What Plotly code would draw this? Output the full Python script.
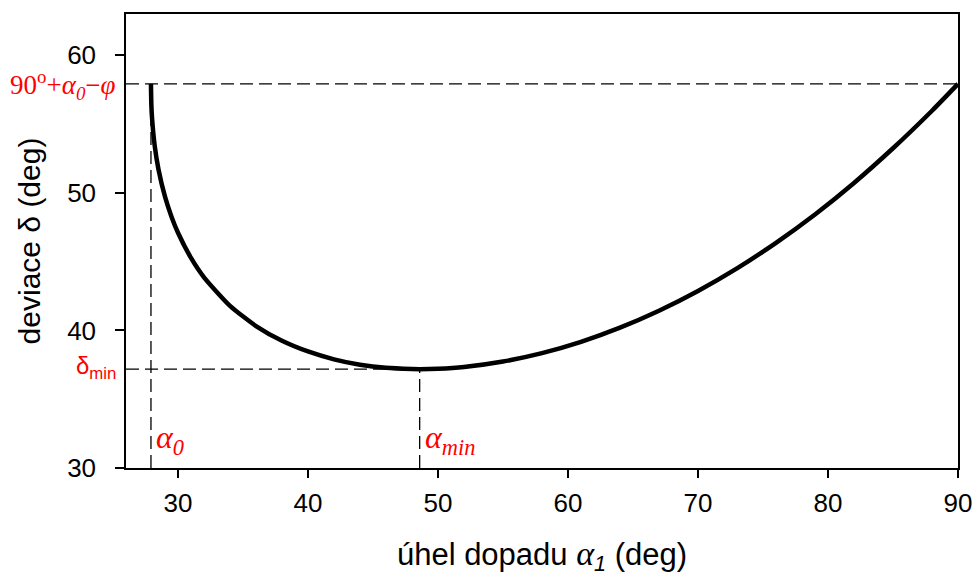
import plotly.graph_objects as go

# incidence angle alpha1 (deg) and deviation delta (deg)
alpha1 = [27.92, 27.95, 28.0, 28.2, 28.5, 29.0, 29.5, 30.0, 31.0, 32.0, 34.0, 36.0,
          38.0, 40.0, 42.0, 44.0, 46.0, 48.0, 48.59, 50.0, 52.0, 55.0, 58.0, 61.0,
          64.0, 67.0, 70.0, 73.0, 76.0, 79.0, 82.0, 85.0, 88.0, 90.0]
delta = [57.92, 56.41, 55.48, 53.48, 51.70, 49.72, 48.27, 47.10, 45.27, 43.86, 41.79, 40.32,
         39.25, 38.47, 37.90, 37.51, 37.28, 37.19, 37.18, 37.21, 37.34, 37.74, 38.35, 39.17,
         40.20, 41.43, 42.87, 44.51, 46.37, 48.43, 50.72, 53.24, 55.97, 57.92]

alpha0 = 27.92
alpha_min = 48.59
delta_min = 37.18
delta_top = 57.92
x_range = [26, 90]
y_range = [30, 63]
x_ticks = [30, 40, 50, 60, 70, 80, 90]
y_ticks = [30, 40, 50, 60]

SANS = "Liberation Sans, Arial, sans-serif"
SERIF = "Liberation Serif, Times New Roman, serif"
RED = "#ff0000"

fig = go.Figure()
dash_style = dict(color="black", width=1.3, dash="13px,6px")
# guide lines
fig.add_trace(go.Scatter(x=[x_range[0], x_range[1]], y=[delta_top, delta_top], mode="lines",
                         line=dash_style, hoverinfo="skip"))
fig.add_trace(go.Scatter(x=[alpha0, alpha0], y=[y_range[0], delta_top], mode="lines",
                         line=dash_style, hoverinfo="skip"))
fig.add_trace(go.Scatter(x=[x_range[0], alpha_min], y=[delta_min, delta_min], mode="lines",
                         line=dash_style, hoverinfo="skip"))
fig.add_trace(go.Scatter(x=[alpha_min, alpha_min], y=[y_range[0], delta_min], mode="lines",
                         line=dash_style, hoverinfo="skip"))
# curve
fig.add_trace(go.Scatter(x=alpha1, y=delta, mode="lines",
                         line=dict(color="black", width=4.5, shape="spline", smoothing=0.6)))

fig.add_annotation(xref="paper", x=0, y=delta_top, xanchor="right", yanchor="middle",
                   xshift=-8, yshift=-1, showarrow=False,
                   text="90<sup>o</sup>+<i>α</i><sub><i>0</i></sub>−<i>φ</i>",
                   font=dict(family=SERIF, size=27, color=RED))
fig.add_annotation(xref="paper", x=0, y=delta_min, xanchor="right", yanchor="middle",
                   xshift=-8, yshift=2, showarrow=False,
                   text="δ<sub>min</sub>",
                   font=dict(family=SANS, size=24, color=RED))
fig.add_annotation(x=alpha0, y=y_range[0], xanchor="left", yanchor="bottom",
                   xshift=3, yshift=6, showarrow=False,
                   text="<i>α</i><sub><i>0</i></sub>",
                   font=dict(family=SERIF, size=32, color=RED))
fig.add_annotation(x=alpha_min, y=y_range[0], xanchor="left", yanchor="bottom",
                   xshift=3, yshift=6, showarrow=False,
                   text="<i>α</i><sub><i>min</i></sub>",
                   font=dict(family=SERIF, size=32, color=RED))

fig.update_layout(
    width=972, height=582,
    margin=dict(l=126, r=14, t=14, b=114, autoexpand=False),
    plot_bgcolor="white", paper_bgcolor="white",
    showlegend=False,
    font=dict(family=SANS, size=26, color="black"),
    xaxis=dict(range=x_range, tickvals=x_ticks, showgrid=False, zeroline=False,
               showline=True, linecolor="black", linewidth=1.5, mirror=True,
               ticks="outside", ticklen=8, tickwidth=1.5, tickcolor="black",
               ticklabelstandoff=3, tickfont=dict(size=26), automargin=False,
               ticklabeloverflow="allow",
               title=dict(text="úhel dopadu <i><span style='font-family:Liberation Serif;font-size:34px'>α</span><sub>1</sub></i> (deg)",
                          font=dict(size=31), standoff=26)),
    yaxis=dict(range=y_range, tickvals=y_ticks, showgrid=False, zeroline=False,
               showline=True, linecolor="black", linewidth=1.5, mirror=True,
               ticks="outside", ticklen=9, tickwidth=1.5, tickcolor="black",
               ticklabelstandoff=14, tickfont=dict(size=26), automargin=False,
               ticklabeloverflow="allow",
               title=dict(text="deviace δ (deg)", font=dict(size=30), standoff=18)),
)

fig.write_html("out.html", config={"displayModeBar": False},
               post_script="document.body.style.margin='0px';document.body.style.overflow='hidden';")
